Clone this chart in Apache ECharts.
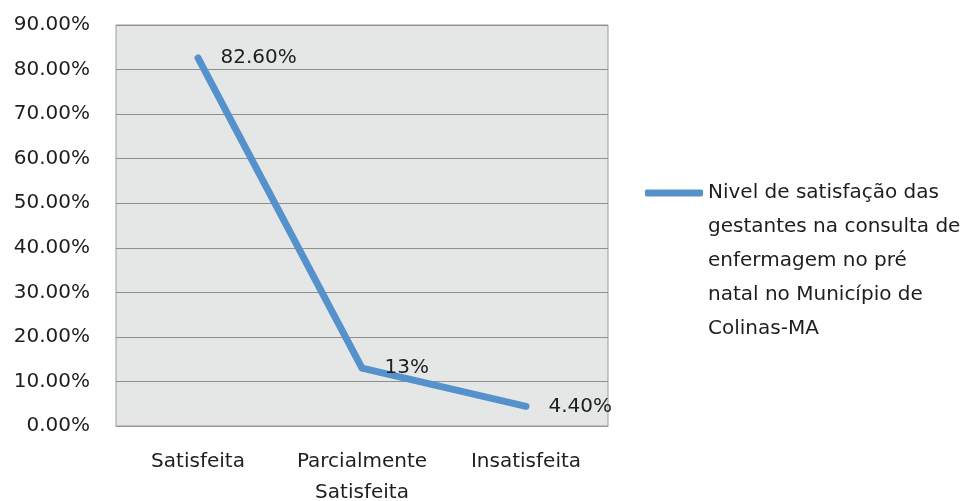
<!DOCTYPE html>
<html>
<head>
<meta charset="utf-8">
<script src="https://cdn.jsdelivr.net/npm/echarts@6/dist/echarts.min.js"></script>
<style>
  html, body { margin: 0; padding: 0; background: #ffffff; }
  #chart { width: 975px; height: 501px; }
</style>
</head>
<body>
<div id="chart"></div>
<script>
// Categories and values (percent)
const categories = ['Satisfeita', 'Parcialmente\nSatisfeita', 'Insatisfeita'];
const values = [82.6, 13, 4.4];
const valueLabels = ['82.60%', '13%', '4.40%'];
const seriesName = 'Nivel de satisfação das\ngestantes na consulta de\nenfermagem no pré\nnatal no Município de\nColinas-MA';

const FONT = 'DejaVu Sans';
const FS = 20;
const LINE_H = 34;
const chart = echarts.init(document.getElementById('chart'));

// The legend text is vertically centred on its icon; prepend blank lines so
// the icon sits beside the first line of the multi-line name.
const nLines = seriesName.split('\n').length;
const blankLead = '\n'.repeat(nLines - 1);
const legendCenterY = 193;

chart.setOption({
  animation: false,
  backgroundColor: '#ffffff',
  textStyle: { fontFamily: FONT },
  grid: {
    left: 116, right: 367, top: 25, bottom: 75,
    outerBoundsMode: 'none',
    containLabel: false,
    show: true,
    backgroundColor: '#e5e6e6',
    borderColor: '#9a9a9a',
    borderWidth: 1
  },
  legend: {
    left: 645,
    top: legendCenterY - (2 * nLines - 1) * LINE_H / 2,
    padding: 0,
    orient: 'vertical',
    itemWidth: 58, itemHeight: 7, itemGap: 0,
    icon: 'roundRect',
    formatter: name => blankLead + name,
    textStyle: { fontFamily: FONT, fontSize: FS, color: '#1e1e1e', lineHeight: LINE_H },
    data: [{ name: seriesName, itemStyle: { color: '#5592cc' } }]
  },
  xAxis: {
    type: 'category',
    data: categories,
    boundaryGap: true,
    axisLine: { show: true, lineStyle: { color: '#9a9a9a', width: 1 } },
    axisTick: { show: false },
    axisLabel: { color: '#1e1e1e', fontSize: FS, fontFamily: FONT, margin: 20, lineHeight: 31, interval: 0 }
  },
  yAxis: {
    type: 'value',
    min: 0, max: 90, interval: 10,
    axisLine: { show: false },
    axisTick: { show: false },
    splitLine: { show: true, lineStyle: { color: '#8f8f8f', width: 1 } },
    axisLabel: {
      color: '#1e1e1e', fontSize: FS, fontFamily: FONT, margin: 26,
      formatter: v => v.toFixed(2) + '%'
    }
  },
  series: [{
    name: seriesName,
    type: 'line',
    data: values,
    symbol: 'circle',
    symbolSize: 1,
    showSymbol: true,
    lineStyle: { color: '#5592cc', width: 7, cap: 'round', join: 'round' },
    itemStyle: { color: '#5592cc' },
    label: {
      show: true,
      position: 'right',
      distance: 22,
      color: '#1e1e1e',
      fontSize: FS,
      fontFamily: FONT,
      formatter: p => valueLabels[p.dataIndex]
    }
  }]
});
</script>
</body>
</html>
